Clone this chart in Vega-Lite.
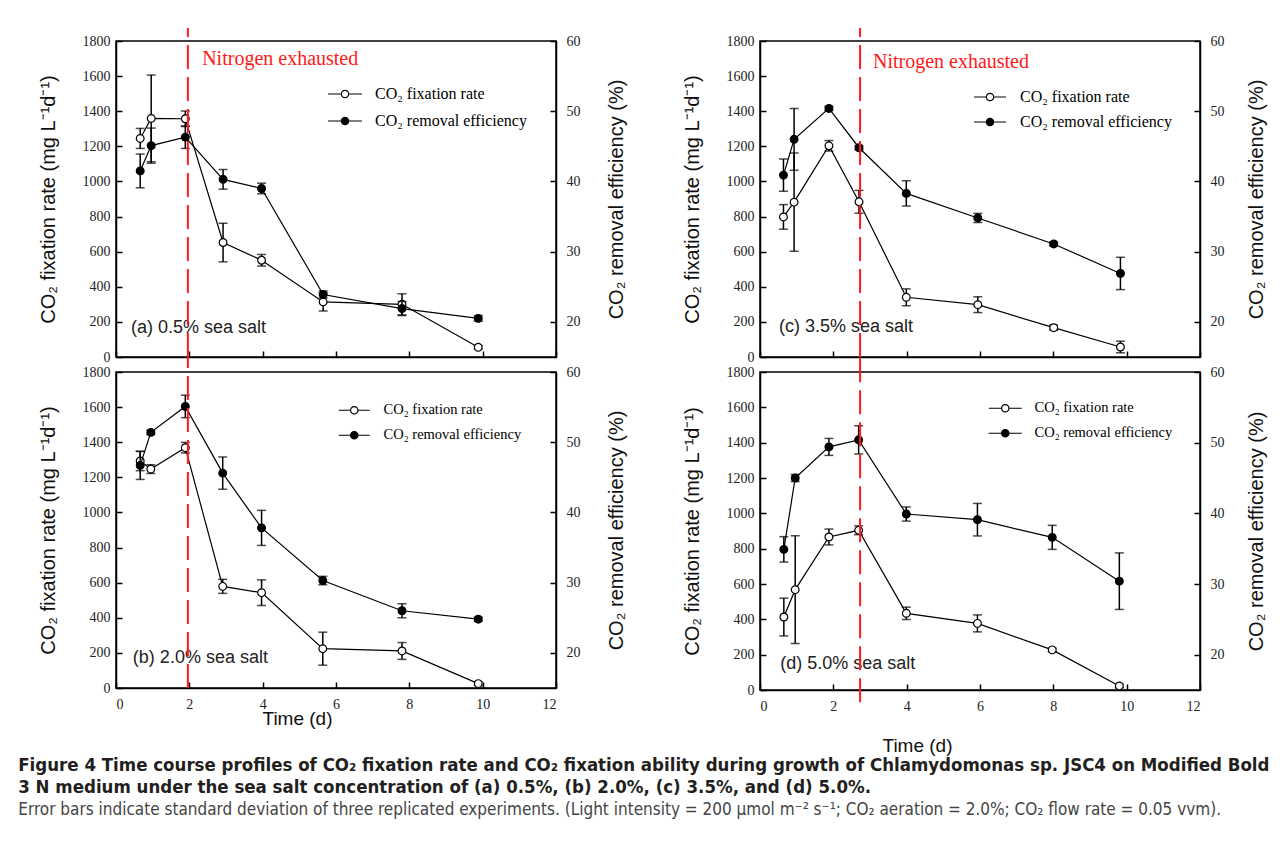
{
"$schema": "https://vega.github.io/schema/vega-lite/v6.json",
"background": "white",
"padding": {"left": 18, "top": 26, "right": 5, "bottom": 5},
"datasets": {
"pts": [
{"p":"a","s":"CO₂ fixation rate","d":0.66,"v":1245,"e":57},
{"p":"a","s":"CO₂ fixation rate","d":0.96,"v":1359,"e":247},
{"p":"a","s":"CO₂ fixation rate","d":1.89,"v":1357,"e":44},
{"p":"a","s":"CO₂ fixation rate","d":2.92,"v":652,"e":110},
{"p":"a","s":"CO₂ fixation rate","d":3.97,"v":551,"e":33},
{"p":"a","s":"CO₂ fixation rate","d":5.65,"v":314,"e":52},
{"p":"a","s":"CO₂ fixation rate","d":7.80,"v":300,"e":60},
{"p":"a","s":"CO₂ fixation rate","d":9.88,"v":55,"e":10},
{"p":"a","s":"CO₂ removal efficiency","d":0.66,"v":41.5,"e":2.4},
{"p":"a","s":"CO₂ removal efficiency","d":0.96,"v":45.1,"e":2.5},
{"p":"a","s":"CO₂ removal efficiency","d":1.89,"v":46.3,"e":1.6},
{"p":"a","s":"CO₂ removal efficiency","d":2.92,"v":40.3,"e":1.4},
{"p":"a","s":"CO₂ removal efficiency","d":3.97,"v":39.0,"e":0.75},
{"p":"a","s":"CO₂ removal efficiency","d":5.65,"v":23.9,"e":0.5},
{"p":"a","s":"CO₂ removal efficiency","d":7.80,"v":21.9,"e":1.0},
{"p":"a","s":"CO₂ removal efficiency","d":9.88,"v":20.5,"e":0.4},
{"p":"b","s":"CO₂ fixation rate","d":0.66,"v":1293,"e":55},
{"p":"b","s":"CO₂ fixation rate","d":0.95,"v":1247,"e":25},
{"p":"b","s":"CO₂ fixation rate","d":1.89,"v":1369,"e":30},
{"p":"b","s":"CO₂ fixation rate","d":2.91,"v":579,"e":40},
{"p":"b","s":"CO₂ fixation rate","d":3.97,"v":543,"e":73},
{"p":"b","s":"CO₂ fixation rate","d":5.64,"v":224,"e":94},
{"p":"b","s":"CO₂ fixation rate","d":7.80,"v":211,"e":48},
{"p":"b","s":"CO₂ fixation rate","d":9.88,"v":25,"e":10},
{"p":"b","s":"CO₂ removal efficiency","d":0.66,"v":46.7,"e":2.0},
{"p":"b","s":"CO₂ removal efficiency","d":0.95,"v":51.4,"e":0.3},
{"p":"b","s":"CO₂ removal efficiency","d":1.89,"v":55.1,"e":1.6},
{"p":"b","s":"CO₂ removal efficiency","d":2.91,"v":45.6,"e":2.3},
{"p":"b","s":"CO₂ removal efficiency","d":3.97,"v":37.8,"e":2.5},
{"p":"b","s":"CO₂ removal efficiency","d":5.64,"v":30.3,"e":0.6},
{"p":"b","s":"CO₂ removal efficiency","d":7.80,"v":26.0,"e":1.0},
{"p":"b","s":"CO₂ removal efficiency","d":9.88,"v":24.8,"e":0.3},
{"p":"c","s":"CO₂ fixation rate","d":0.64,"v":798,"e":70},
{"p":"c","s":"CO₂ fixation rate","d":0.93,"v":882,"e":280},
{"p":"c","s":"CO₂ fixation rate","d":1.88,"v":1203,"e":30},
{"p":"c","s":"CO₂ fixation rate","d":2.70,"v":884,"e":65},
{"p":"c","s":"CO₂ fixation rate","d":3.99,"v":340,"e":48},
{"p":"c","s":"CO₂ fixation rate","d":5.94,"v":298,"e":45},
{"p":"c","s":"CO₂ fixation rate","d":8.01,"v":167,"e":15},
{"p":"c","s":"CO₂ fixation rate","d":9.83,"v":57,"e":33},
{"p":"c","s":"CO₂ removal efficiency","d":0.64,"v":40.9,"e":2.3},
{"p":"c","s":"CO₂ removal efficiency","d":0.93,"v":46.0,"e":4.4},
{"p":"c","s":"CO₂ removal efficiency","d":1.88,"v":50.4,"e":0.3},
{"p":"c","s":"CO₂ removal efficiency","d":2.70,"v":44.8,"e":0.3},
{"p":"c","s":"CO₂ removal efficiency","d":3.99,"v":38.3,"e":1.8},
{"p":"c","s":"CO₂ removal efficiency","d":5.94,"v":34.8,"e":0.65},
{"p":"c","s":"CO₂ removal efficiency","d":8.01,"v":31.1,"e":0.3},
{"p":"c","s":"CO₂ removal efficiency","d":9.83,"v":26.9,"e":2.3},
{"p":"d","s":"CO₂ fixation rate","d":0.65,"v":413,"e":107},
{"p":"d","s":"CO₂ fixation rate","d":0.96,"v":568,"e":305},
{"p":"d","s":"CO₂ fixation rate","d":1.88,"v":866,"e":45},
{"p":"d","s":"CO₂ fixation rate","d":2.69,"v":904,"e":25},
{"p":"d","s":"CO₂ fixation rate","d":3.99,"v":434,"e":35},
{"p":"d","s":"CO₂ fixation rate","d":5.93,"v":377,"e":48},
{"p":"d","s":"CO₂ fixation rate","d":7.97,"v":227,"e":10},
{"p":"d","s":"CO₂ fixation rate","d":9.80,"v":23,"e":10},
{"p":"d","s":"CO₂ removal efficiency","d":0.65,"v":34.9,"e":1.8},
{"p":"d","s":"CO₂ removal efficiency","d":0.96,"v":45.0,"e":0.5},
{"p":"d","s":"CO₂ removal efficiency","d":1.88,"v":49.4,"e":1.2},
{"p":"d","s":"CO₂ removal efficiency","d":2.69,"v":50.4,"e":2.0},
{"p":"d","s":"CO₂ removal efficiency","d":3.99,"v":39.9,"e":1.0},
{"p":"d","s":"CO₂ removal efficiency","d":5.93,"v":39.1,"e":2.3},
{"p":"d","s":"CO₂ removal efficiency","d":7.97,"v":36.6,"e":1.7},
{"p":"d","s":"CO₂ removal efficiency","d":9.80,"v":30.4,"e":4.0},
{"p":"a","s":"label","t":"(a) 0.5% sea salt"},
{"p":"a","s":"note","t":"Nitrogen exhausted"},
{"p":"a","s":"rule"},
{"p":"b","s":"label","t":"(b) 2.0% sea salt"},
{"p":"b","s":"rule"},
{"p":"c","s":"label","t":"(c) 3.5% sea salt"},
{"p":"c","s":"note","t":"Nitrogen exhausted"},
{"p":"c","s":"rule"},
{"p":"d","s":"label","t":"(d) 5.0% sea salt"},
{"p":"d","s":"rule"}
]
},
"data": {"name": "pts"},
"title": {
"text": ["Figure 4 Time course profiles of CO₂ fixation rate and CO₂ fixation ability during growth of Chlamydomonas sp. JSC4 on Modified Bold", "3 N medium under the sea salt concentration of (a) 0.5%, (b) 2.0%, (c) 3.5%, and (d) 5.0%."],
"subtitle": ["Error bars indicate standard deviation of three replicated experiments. (Light intensity = 200 μmol m⁻² s⁻¹; CO₂ aeration = 2.0%; CO₂ flow rate = 0.05 vvm)."],
"orient": "bottom", "anchor": "start", "frame": "bounds", "offset": 0, "dx": -19,
"font": "Liberation Sans Narrow, DejaVu Sans Condensed, sans-serif", "fontSize": 18.5, "fontWeight": "bold", "color": "#231f20", "lineHeight": 22.5,
"subtitleFont": "Liberation Sans Narrow, DejaVu Sans Condensed, sans-serif", "subtitleFontSize": 17, "subtitleColor": "#444444", "subtitleLineHeight": 22.5, "subtitlePadding": 5
},
"columns": 2,
"bounds": "flush",
"spacing": {"row": 15, "column": 204},
"resolve": {"scale": {"fill": "independent"}, "legend": {"fill": "independent"}},
"concat": [
{
"width": 440, "height": 316,
"transform": [{"filter": "datum.p == 'a'"}],
"layer": [
{"layer": [
{"transform": [{"filter": "datum.s == 'CO₂ fixation rate'"}],
"encoding": {
"x": {"field": "d", "type": "quantitative", "scale": {"domain": [0, 12], "nice": false}, "axis": {"values": [0,2,4,6,8,10,12], "labels": false, "title": null, "tickSize": -6}},
"y": {"field": "v", "type": "quantitative", "scale": {"domain": [0, 1800], "nice": false}, "axis": {"orient": "left", "values": [0,200,400,600,800,1000,1200,1400,1600,1800], "format": "d", "labelOverlap": false, "title": "CO₂ fixation rate (mg L⁻¹d⁻¹)", "tickSize": -6, "labelPadding": 12, "titlePadding": 24}}},
"layer": [
{"mark": {"type": "errorbar", "ticks": {"size": 9, "thickness": 1.5, "color": "black"}, "rule": {"strokeWidth": 1.5, "color": "black"}}, "encoding": {"yError": {"field": "e"}}},
{"mark": {"type": "line", "color": "black", "strokeWidth": 1.2}},
{"mark": {"type": "point", "shape": "circle", "filled": true, "size": 60, "stroke": "black", "strokeWidth": 1.2, "opacity": 1},
"encoding": {"fill": {"field": "s", "type": "nominal", "scale": {"domain": ["CO₂ fixation rate", "CO₂ removal efficiency"], "range": ["white", "black"]},
"legend": {"orient": "none", "legendX": 221, "legendY": 45, "title": null, "padding": 0, "symbolType": "M-3.4,0L-0.74,0M0.74,0L3.4,0M0.74,0A0.74,0.74,0,1,1,-0.74,0A0.74,0.74,0,1,1,0.74,0Z", "symbolSize": 100, "symbolStrokeColor": "black", "symbolStrokeWidth": 1.2, "labelFont": "Liberation Serif", "labelFontSize": 16, "labelColor": "black", "labelOffset": 22, "rowPadding": 11}}}}
]},
{"transform": [{"filter": "datum.s == 'label'"}], "mark": {"type": "text", "font": "Liberation Sans", "fontSize": 18, "color": "#222222", "align": "left", "baseline": "middle"},
"encoding": {"x": {"datum": 0.41, "axis": {"values": [0,2,4,6,8,10,12], "labels": false, "title": null, "tickSize": -6}}, "y": {"datum": 165, "axis": {"orient": "left", "values": [0,200,400,600,800,1000,1200,1400,1600,1800], "format": "d", "labelOverlap": false, "title": "CO₂ fixation rate (mg L⁻¹d⁻¹)", "tickSize": -6, "labelPadding": 12, "titlePadding": 24}}, "text": {"field": "t"}}},
{"transform": [{"filter": "datum.s == 'note'"}], "mark": {"type": "text", "font": "Liberation Serif", "fontSize": 20, "color": "#ff1a1a", "align": "left", "baseline": "middle"},
"encoding": {"x": {"datum": 2.35, "axis": {"values": [0,2,4,6,8,10,12], "labels": false, "title": null, "tickSize": -6}}, "y": {"datum": 1697, "axis": {"orient": "left", "values": [0,200,400,600,800,1000,1200,1400,1600,1800], "format": "d", "labelOverlap": false, "title": "CO₂ fixation rate (mg L⁻¹d⁻¹)", "tickSize": -6, "labelPadding": 12, "titlePadding": 24}}, "text": {"field": "t"}}}
]},
{"layer": [
{"transform": [{"filter": "datum.s == 'CO₂ removal efficiency'"}],
"encoding": {
"x": {"field": "d", "type": "quantitative", "scale": {"domain": [0, 12], "nice": false}, "axis": {"values": [0,2,4,6,8,10,12], "labels": false, "title": null, "tickSize": -6}},
"y": {"field": "v", "type": "quantitative", "scale": {"domain": [15, 60], "nice": false, "zero": false}, "axis": {"orient": "right", "values": [20,30,40,50,60], "labelOverlap": false, "title": "CO₂ removal efficiency (%)", "tickSize": -6, "labelPadding": 16, "titleAngle": -90, "titleBaseline": "top", "titlePadding": 26}}},
"layer": [
{"mark": {"type": "errorbar", "ticks": {"size": 9, "thickness": 1.5, "color": "black"}, "rule": {"strokeWidth": 1.5, "color": "black"}}, "encoding": {"yError": {"field": "e"}}},
{"mark": {"type": "line", "color": "black", "strokeWidth": 1.2}},
{"mark": {"type": "point", "shape": "circle", "filled": true, "size": 60, "stroke": "black", "strokeWidth": 1.2, "opacity": 1},
"encoding": {"fill": {"field": "s", "type": "nominal", "scale": {"domain": ["CO₂ fixation rate", "CO₂ removal efficiency"], "range": ["white", "black"]},
"legend": {"orient": "none", "legendX": 221, "legendY": 45, "title": null, "padding": 0, "symbolType": "M-3.4,0L-0.74,0M0.74,0L3.4,0M0.74,0A0.74,0.74,0,1,1,-0.74,0A0.74,0.74,0,1,1,0.74,0Z", "symbolSize": 100, "symbolStrokeColor": "black", "symbolStrokeWidth": 1.2, "labelFont": "Liberation Serif", "labelFontSize": 16, "labelColor": "black", "labelOffset": 22, "rowPadding": 11}}}}
]},
{"transform": [{"filter": "datum.s == 'rule'"}], "mark": {"type": "rule", "color": "#ff1a1a", "strokeWidth": 2, "strokeDash": [24, 8], "clip": false},
"encoding": {"x": {"datum": 1.96, "axis": {"values": [0,2,4,6,8,10,12], "labels": false, "title": null, "tickSize": -6}}, "y": {"datum": 15, "axis": {"orient": "right", "values": [20,30,40,50,60], "labelOverlap": false, "title": "CO₂ removal efficiency (%)", "tickSize": -6, "labelPadding": 16, "titleAngle": -90, "titleBaseline": "top", "titlePadding": 26}}, "y2": {"datum": 61.85}}}
]}
],
"resolve": {"scale": {"y": "independent"}}
},
{
"width": 440, "height": 316,
"transform": [{"filter": "datum.p == 'c'"}],
"layer": [
{"layer": [
{"transform": [{"filter": "datum.s == 'CO₂ fixation rate'"}],
"encoding": {
"x": {"field": "d", "type": "quantitative", "scale": {"domain": [0, 12], "nice": false}, "axis": {"values": [0,2,4,6,8,10,12], "labels": false, "title": null, "tickSize": -6}},
"y": {"field": "v", "type": "quantitative", "scale": {"domain": [0, 1800], "nice": false}, "axis": {"orient": "left", "values": [0,200,400,600,800,1000,1200,1400,1600,1800], "format": "d", "labelOverlap": false, "title": "CO₂ fixation rate (mg L⁻¹d⁻¹)", "tickSize": -6, "labelPadding": 12, "titlePadding": 24}}},
"layer": [
{"mark": {"type": "errorbar", "ticks": {"size": 9, "thickness": 1.5, "color": "black"}, "rule": {"strokeWidth": 1.5, "color": "black"}}, "encoding": {"yError": {"field": "e"}}},
{"mark": {"type": "line", "color": "black", "strokeWidth": 1.2}},
{"mark": {"type": "point", "shape": "circle", "filled": true, "size": 60, "stroke": "black", "strokeWidth": 1.2, "opacity": 1},
"encoding": {"fill": {"field": "s", "type": "nominal", "scale": {"domain": ["CO₂ fixation rate", "CO₂ removal efficiency"], "range": ["white", "black"]},
"legend": {"orient": "none", "legendX": 222, "legendY": 48, "title": null, "padding": 0, "symbolType": "M-3.2,0L-0.74,0M0.74,0L3.2,0M0.74,0A0.74,0.74,0,1,1,-0.74,0A0.74,0.74,0,1,1,0.74,0Z", "symbolSize": 100, "symbolStrokeColor": "black", "symbolStrokeWidth": 1.2, "labelFont": "Liberation Serif", "labelFontSize": 16, "labelColor": "black", "labelOffset": 22, "rowPadding": 9}}}}
]},
{"transform": [{"filter": "datum.s == 'label'"}], "mark": {"type": "text", "font": "Liberation Sans", "fontSize": 18, "color": "#222222", "align": "left", "baseline": "middle"},
"encoding": {"x": {"datum": 0.52, "axis": {"values": [0,2,4,6,8,10,12], "labels": false, "title": null, "tickSize": -6}}, "y": {"datum": 171, "axis": {"orient": "left", "values": [0,200,400,600,800,1000,1200,1400,1600,1800], "format": "d", "labelOverlap": false, "title": "CO₂ fixation rate (mg L⁻¹d⁻¹)", "tickSize": -6, "labelPadding": 12, "titlePadding": 24}}, "text": {"field": "t"}}},
{"transform": [{"filter": "datum.s == 'note'"}], "mark": {"type": "text", "font": "Liberation Serif", "fontSize": 20, "color": "#ff1a1a", "align": "left", "baseline": "middle"},
"encoding": {"x": {"datum": 3.08, "axis": {"values": [0,2,4,6,8,10,12], "labels": false, "title": null, "tickSize": -6}}, "y": {"datum": 1680, "axis": {"orient": "left", "values": [0,200,400,600,800,1000,1200,1400,1600,1800], "format": "d", "labelOverlap": false, "title": "CO₂ fixation rate (mg L⁻¹d⁻¹)", "tickSize": -6, "labelPadding": 12, "titlePadding": 24}}, "text": {"field": "t"}}}
]},
{"layer": [
{"transform": [{"filter": "datum.s == 'CO₂ removal efficiency'"}],
"encoding": {
"x": {"field": "d", "type": "quantitative", "scale": {"domain": [0, 12], "nice": false}, "axis": {"values": [0,2,4,6,8,10,12], "labels": false, "title": null, "tickSize": -6}},
"y": {"field": "v", "type": "quantitative", "scale": {"domain": [15, 60], "nice": false, "zero": false}, "axis": {"orient": "right", "values": [20,30,40,50,60], "labelOverlap": false, "title": "CO₂ removal efficiency (%)", "tickSize": -6, "labelPadding": 16, "titleAngle": -90, "titleBaseline": "top", "titlePadding": 22}}},
"layer": [
{"mark": {"type": "errorbar", "ticks": {"size": 9, "thickness": 1.5, "color": "black"}, "rule": {"strokeWidth": 1.5, "color": "black"}}, "encoding": {"yError": {"field": "e"}}},
{"mark": {"type": "line", "color": "black", "strokeWidth": 1.2}},
{"mark": {"type": "point", "shape": "circle", "filled": true, "size": 60, "stroke": "black", "strokeWidth": 1.2, "opacity": 1},
"encoding": {"fill": {"field": "s", "type": "nominal", "scale": {"domain": ["CO₂ fixation rate", "CO₂ removal efficiency"], "range": ["white", "black"]},
"legend": {"orient": "none", "legendX": 222, "legendY": 48, "title": null, "padding": 0, "symbolType": "M-3.2,0L-0.74,0M0.74,0L3.2,0M0.74,0A0.74,0.74,0,1,1,-0.74,0A0.74,0.74,0,1,1,0.74,0Z", "symbolSize": 100, "symbolStrokeColor": "black", "symbolStrokeWidth": 1.2, "labelFont": "Liberation Serif", "labelFontSize": 16, "labelColor": "black", "labelOffset": 22, "rowPadding": 9}}}}
]},
{"transform": [{"filter": "datum.s == 'rule'"}], "mark": {"type": "rule", "color": "#ff1a1a", "strokeWidth": 2, "strokeDash": [24, 8], "clip": false},
"encoding": {"x": {"datum": 2.73, "axis": {"values": [0,2,4,6,8,10,12], "labels": false, "title": null, "tickSize": -6}}, "y": {"datum": 15, "axis": {"orient": "right", "values": [20,30,40,50,60], "labelOverlap": false, "title": "CO₂ removal efficiency (%)", "tickSize": -6, "labelPadding": 16, "titleAngle": -90, "titleBaseline": "top", "titlePadding": 22}}, "y2": {"datum": 61.85}}}
]}
],
"resolve": {"scale": {"y": "independent"}}
},
{
"width": 440, "height": 316,
"transform": [{"filter": "datum.p == 'b'"}],
"layer": [
{"layer": [
{"transform": [{"filter": "datum.s == 'CO₂ fixation rate'"}],
"encoding": {
"x": {"field": "d", "type": "quantitative", "scale": {"domain": [0, 12], "nice": false}, "axis": {"values": [0,2,4,6,8,10,12], "labels": true, "labelPadding": 15, "title": "Time (d)", "titleFont": "Liberation Sans", "titleFontSize": 19, "titleX": 181, "titleY": 30, "titleBaseline": "middle", "tickSize": -6}},
"y": {"field": "v", "type": "quantitative", "scale": {"domain": [0, 1800], "nice": false}, "axis": {"orient": "left", "values": [0,200,400,600,800,1000,1200,1400,1600,1800], "format": "d", "labelOverlap": false, "title": "CO₂ fixation rate (mg L⁻¹d⁻¹)", "tickSize": -6, "labelPadding": 12, "titlePadding": 24}}},
"layer": [
{"mark": {"type": "errorbar", "ticks": {"size": 9, "thickness": 1.5, "color": "black"}, "rule": {"strokeWidth": 1.5, "color": "black"}}, "encoding": {"yError": {"field": "e"}}},
{"mark": {"type": "line", "color": "black", "strokeWidth": 1.2}},
{"mark": {"type": "point", "shape": "circle", "filled": true, "size": 60, "stroke": "black", "strokeWidth": 1.2, "opacity": 1},
"encoding": {"fill": {"field": "s", "type": "nominal", "scale": {"domain": ["CO₂ fixation rate", "CO₂ removal efficiency"], "range": ["white", "black"]},
"legend": {"orient": "none", "legendX": 231, "legendY": 31, "title": null, "padding": 0, "symbolType": "M-3.1,0L-0.74,0M0.74,0L3.1,0M0.74,0A0.74,0.74,0,1,1,-0.74,0A0.74,0.74,0,1,1,0.74,0Z", "symbolSize": 100, "symbolStrokeColor": "black", "symbolStrokeWidth": 1.2, "labelFont": "Liberation Serif", "labelFontSize": 14.5, "labelColor": "black", "labelOffset": 22, "rowPadding": 10}}}}
]},
{"transform": [{"filter": "datum.s == 'label'"}], "mark": {"type": "text", "font": "Liberation Sans", "fontSize": 18, "color": "#222222", "align": "left", "baseline": "middle"},
"encoding": {"x": {"datum": 0.46, "axis": {"values": [0,2,4,6,8,10,12], "labels": true, "labelPadding": 15, "title": "Time (d)", "titleFont": "Liberation Sans", "titleFontSize": 19, "titleX": 181, "titleY": 30, "titleBaseline": "middle", "tickSize": -6}}, "y": {"datum": 171, "axis": {"orient": "left", "values": [0,200,400,600,800,1000,1200,1400,1600,1800], "format": "d", "labelOverlap": false, "title": "CO₂ fixation rate (mg L⁻¹d⁻¹)", "tickSize": -6, "labelPadding": 12, "titlePadding": 24}}, "text": {"field": "t"}}}
]},
{"layer": [
{"transform": [{"filter": "datum.s == 'CO₂ removal efficiency'"}],
"encoding": {
"x": {"field": "d", "type": "quantitative", "scale": {"domain": [0, 12], "nice": false}, "axis": {"values": [0,2,4,6,8,10,12], "labels": true, "labelPadding": 15, "title": "Time (d)", "titleFont": "Liberation Sans", "titleFontSize": 19, "titleX": 181, "titleY": 30, "titleBaseline": "middle", "tickSize": -6}},
"y": {"field": "v", "type": "quantitative", "scale": {"domain": [15, 60], "nice": false, "zero": false}, "axis": {"orient": "right", "values": [20,30,40,50,60], "labelOverlap": false, "title": "CO₂ removal efficiency (%)", "tickSize": -6, "labelPadding": 16, "titleAngle": -90, "titleBaseline": "top", "titlePadding": 26}}},
"layer": [
{"mark": {"type": "errorbar", "ticks": {"size": 9, "thickness": 1.5, "color": "black"}, "rule": {"strokeWidth": 1.5, "color": "black"}}, "encoding": {"yError": {"field": "e"}}},
{"mark": {"type": "line", "color": "black", "strokeWidth": 1.2}},
{"mark": {"type": "point", "shape": "circle", "filled": true, "size": 60, "stroke": "black", "strokeWidth": 1.2, "opacity": 1},
"encoding": {"fill": {"field": "s", "type": "nominal", "scale": {"domain": ["CO₂ fixation rate", "CO₂ removal efficiency"], "range": ["white", "black"]},
"legend": {"orient": "none", "legendX": 231, "legendY": 31, "title": null, "padding": 0, "symbolType": "M-3.1,0L-0.74,0M0.74,0L3.1,0M0.74,0A0.74,0.74,0,1,1,-0.74,0A0.74,0.74,0,1,1,0.74,0Z", "symbolSize": 100, "symbolStrokeColor": "black", "symbolStrokeWidth": 1.2, "labelFont": "Liberation Serif", "labelFontSize": 14.5, "labelColor": "black", "labelOffset": 22, "rowPadding": 10}}}}
]},
{"transform": [{"filter": "datum.s == 'rule'"}], "mark": {"type": "rule", "color": "#ff1a1a", "strokeWidth": 2, "strokeDash": [24, 8], "clip": false},
"encoding": {"x": {"datum": 1.96, "axis": {"values": [0,2,4,6,8,10,12], "labels": true, "labelPadding": 15, "title": "Time (d)", "titleFont": "Liberation Sans", "titleFontSize": 19, "titleX": 181, "titleY": 30, "titleBaseline": "middle", "tickSize": -6}}, "y": {"datum": 15, "axis": {"orient": "right", "values": [20,30,40,50,60], "labelOverlap": false, "title": "CO₂ removal efficiency (%)", "tickSize": -6, "labelPadding": 16, "titleAngle": -90, "titleBaseline": "top", "titlePadding": 26}}, "y2": {"datum": 62.15}}}
]}
],
"resolve": {"scale": {"y": "independent"}}
},
{
"width": 440, "height": 318,
"transform": [{"filter": "datum.p == 'd'"}],
"layer": [
{"layer": [
{"transform": [{"filter": "datum.s == 'CO₂ fixation rate'"}],
"encoding": {
"x": {"field": "d", "type": "quantitative", "scale": {"domain": [0, 12], "nice": false}, "axis": {"values": [0,2,4,6,8,10,12], "labels": true, "labelPadding": 15, "title": "Time (d)", "titleFont": "Liberation Sans", "titleFontSize": 19, "titleX": 157, "titleY": 55, "titleBaseline": "middle", "tickSize": -6}},
"y": {"field": "v", "type": "quantitative", "scale": {"domain": [0, 1800], "nice": false}, "axis": {"orient": "left", "values": [0,200,400,600,800,1000,1200,1400,1600,1800], "format": "d", "labelOverlap": false, "title": "CO₂ fixation rate (mg L⁻¹d⁻¹)", "tickSize": -6, "labelPadding": 12, "titlePadding": 24}}},
"layer": [
{"mark": {"type": "errorbar", "ticks": {"size": 9, "thickness": 1.5, "color": "black"}, "rule": {"strokeWidth": 1.5, "color": "black"}}, "encoding": {"yError": {"field": "e"}}},
{"mark": {"type": "line", "color": "black", "strokeWidth": 1.2}},
{"mark": {"type": "point", "shape": "circle", "filled": true, "size": 60, "stroke": "black", "strokeWidth": 1.2, "opacity": 1},
"encoding": {"fill": {"field": "s", "type": "nominal", "scale": {"domain": ["CO₂ fixation rate", "CO₂ removal efficiency"], "range": ["white", "black"]},
"legend": {"orient": "none", "legendX": 238, "legendY": 29, "title": null, "padding": 0, "symbolType": "M-3.3,0L-0.74,0M0.74,0L3.3,0M0.74,0A0.74,0.74,0,1,1,-0.74,0A0.74,0.74,0,1,1,0.74,0Z", "symbolSize": 100, "symbolStrokeColor": "black", "symbolStrokeWidth": 1.2, "labelFont": "Liberation Serif", "labelFontSize": 14.5, "labelColor": "black", "labelOffset": 22, "rowPadding": 10}}}}
]},
{"transform": [{"filter": "datum.s == 'label'"}], "mark": {"type": "text", "font": "Liberation Sans", "fontSize": 18, "color": "#222222", "align": "left", "baseline": "middle"},
"encoding": {"x": {"datum": 0.55, "axis": {"values": [0,2,4,6,8,10,12], "labels": true, "labelPadding": 15, "title": "Time (d)", "titleFont": "Liberation Sans", "titleFontSize": 19, "titleX": 157, "titleY": 55, "titleBaseline": "middle", "tickSize": -6}}, "y": {"datum": 147, "axis": {"orient": "left", "values": [0,200,400,600,800,1000,1200,1400,1600,1800], "format": "d", "labelOverlap": false, "title": "CO₂ fixation rate (mg L⁻¹d⁻¹)", "tickSize": -6, "labelPadding": 12, "titlePadding": 24}}, "text": {"field": "t"}}}
]},
{"layer": [
{"transform": [{"filter": "datum.s == 'CO₂ removal efficiency'"}],
"encoding": {
"x": {"field": "d", "type": "quantitative", "scale": {"domain": [0, 12], "nice": false}, "axis": {"values": [0,2,4,6,8,10,12], "labels": true, "labelPadding": 15, "title": "Time (d)", "titleFont": "Liberation Sans", "titleFontSize": 19, "titleX": 157, "titleY": 55, "titleBaseline": "middle", "tickSize": -6}},
"y": {"field": "v", "type": "quantitative", "scale": {"domain": [15, 60], "nice": false, "zero": false}, "axis": {"orient": "right", "values": [20,30,40,50,60], "labelOverlap": false, "title": "CO₂ removal efficiency (%)", "tickSize": -6, "labelPadding": 16, "titleAngle": -90, "titleBaseline": "top", "titlePadding": 22}}},
"layer": [
{"mark": {"type": "errorbar", "ticks": {"size": 9, "thickness": 1.5, "color": "black"}, "rule": {"strokeWidth": 1.5, "color": "black"}}, "encoding": {"yError": {"field": "e"}}},
{"mark": {"type": "line", "color": "black", "strokeWidth": 1.2}},
{"mark": {"type": "point", "shape": "circle", "filled": true, "size": 60, "stroke": "black", "strokeWidth": 1.2, "opacity": 1},
"encoding": {"fill": {"field": "s", "type": "nominal", "scale": {"domain": ["CO₂ fixation rate", "CO₂ removal efficiency"], "range": ["white", "black"]},
"legend": {"orient": "none", "legendX": 238, "legendY": 29, "title": null, "padding": 0, "symbolType": "M-3.3,0L-0.74,0M0.74,0L3.3,0M0.74,0A0.74,0.74,0,1,1,-0.74,0A0.74,0.74,0,1,1,0.74,0Z", "symbolSize": 100, "symbolStrokeColor": "black", "symbolStrokeWidth": 1.2, "labelFont": "Liberation Serif", "labelFontSize": 14.5, "labelColor": "black", "labelOffset": 22, "rowPadding": 10}}}}
]},
{"transform": [{"filter": "datum.s == 'rule'"}], "mark": {"type": "rule", "color": "#ff1a1a", "strokeWidth": 2, "strokeDash": [24, 8], "clip": false},
"encoding": {"x": {"datum": 2.73, "axis": {"values": [0,2,4,6,8,10,12], "labels": true, "labelPadding": 15, "title": "Time (d)", "titleFont": "Liberation Sans", "titleFontSize": 19, "titleX": 157, "titleY": 55, "titleBaseline": "middle", "tickSize": -6}}, "y": {"datum": 13.25, "axis": {"orient": "right", "values": [20,30,40,50,60], "labelOverlap": false, "title": "CO₂ removal efficiency (%)", "tickSize": -6, "labelPadding": 16, "titleAngle": -90, "titleBaseline": "top", "titlePadding": 22}}, "y2": {"datum": 62.15}}}
]}
],
"resolve": {"scale": {"y": "independent"}}
}
],
"config": {
"view": {"stroke": "black", "strokeWidth": 1.5},
"axis": {"grid": false, "domainColor": "black", "domainWidth": 1.5, "tickColor": "black", "tickWidth": 1.5, "labelFont": "Liberation Serif", "labelFontSize": 14, "labelColor": "#222222", "titleFont": "Liberation Sans", "titleFontSize": 20, "titleFontWeight": "normal", "titleColor": "#111111"},
"legend": {"labelLimit": 400}
}
}
